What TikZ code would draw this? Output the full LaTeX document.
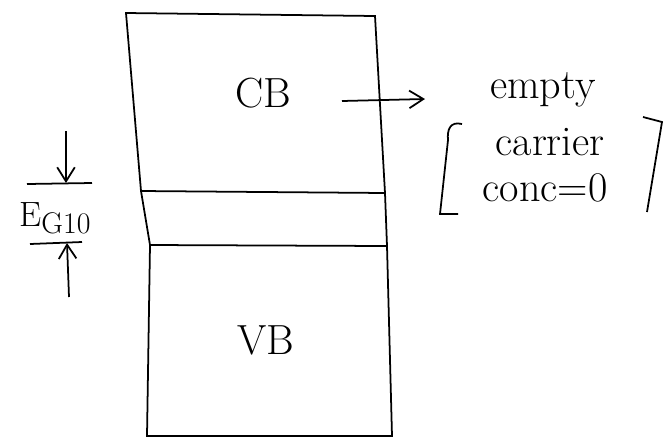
\documentclass[tikz,border=0pt]{standalone}
\usepackage{tikz}
\usetikzlibrary{positioning}
\usetikzlibrary{arrows.meta}

\tikzset{
  banda/.style={font=\fontsize{24}{26}\selectfont},
  nota/.style={font=\fontsize{24}{26}\selectfont, inner sep=0pt},
}

\begin{document}
\begin{tikzpicture}[x=0.02cm,y=-0.02cm,line width=1pt,>={Straight Barb[length=8pt,width=10pt]}]
\useasboundingbox (0,0) rectangle (666,437);

% Cantos das bandas
\coordinate (tl) at (126,13);
\coordinate (tr) at (375,16);
\coordinate (rc) at (385,193);
\coordinate (rv) at (387,246);
\coordinate (br) at (392,436);
\coordinate (bl) at (147,436);
\coordinate (lv) at (150,245);
\coordinate (lc) at (141,191);

% Contorno e limites das bandas
\draw (tl) -- (tr) -- (rc) -- (rv) -- (br) -- (bl) -- (lv) -- (lc) -- cycle;
\draw (lc) -- (rc);
\draw (lv) -- (rv);

% Banda de condução e banda de valência
\node[banda] (cb) at (263,93) {CB};
\node[banda] (vb) at (266,340) {VB};

% Seta da CB para a nota
\coordinate (setaini) at (342,101);
\coordinate (setafim) at (425,99);
\draw[->] (setaini) -- (setafim);

% Nota a direita
\node[nota] (vazia) at (543,90) {empty};
\node[nota] (portador) at (550,142) {carrier};
\node[nota] (conc) at (545,188) {conc=0};
\draw (462,124) .. controls (450,121) and (447,130) .. (448,140) -- (440,214) -- (458,214);
\draw (643,117) -- (662,122) -- (647,212);

% Indicação do gap
\coordinate (gapa) at (27,184);
\coordinate (gapb) at (92,183);
\coordinate (gapc) at (30,244);
\coordinate (gapd) at (82,242);
\draw (gapa) -- (gapb);
\draw (gapc) -- (gapd);
\coordinate (cima) at (66,131);
\coordinate (cimafim) at (66,183);
\coordinate (baixo) at (69,297);
\coordinate (baixofim) at (67,243);
\draw[->] (cima) -- (cimafim);
\draw[->] (baixo) -- (baixofim);
\node[font=\fontsize{20}{22}\selectfont, inner sep=0pt] (eg) at (55,218)
  {E\raisebox{-0.2em}{\fontsize{17}{18}\selectfont G10}};

\end{tikzpicture}
\end{document}
